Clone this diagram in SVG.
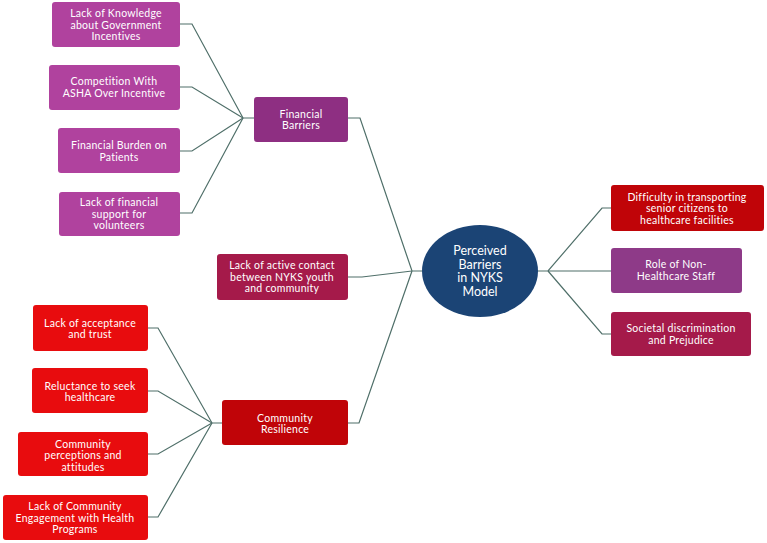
<svg xmlns="http://www.w3.org/2000/svg" width="767" height="543" viewBox="0 0 767 543">
<style>
.t{font-family:Lato,"Liberation Sans",sans-serif;font-size:10.5px;letter-spacing:0.25px;fill:#fff;text-anchor:middle}
.c{font-family:Lato,"Liberation Sans",sans-serif;font-size:12.5px;fill:#fff;text-anchor:middle}
.pl{fill:#B0429E}
.pd{fill:#8E2F82}
.cr{fill:#A51A4A}
.rd{fill:#E80C0E}
.dr{fill:#C00408}
.pr{fill:#8E3A88}
#connectors path{fill:none;stroke:#4F6F69;stroke-width:1.2}
</style>
<rect width="767" height="543" fill="#fff"/>
<g id="connectors">
<path d="M180,24 H192 L243,118 H254"/>
<path d="M180,87 H192 L243,118"/>
<path d="M180,151 H192 L243,118"/>
<path d="M180,213 H192 L243,118"/>
<path d="M348,118 H360 L412,271 H422"/>
<path d="M348,277 H362 L412,271"/>
<path d="M348,423 H359 L412,271"/>
<path d="M148,328 H158 L212,423 H222"/>
<path d="M148,391 H158 L212,423"/>
<path d="M148,454 H158 L212,423"/>
<path d="M148,517 H158 L212,423"/>
<path d="M537,271 H548 L602,208 H611"/>
<path d="M548,271 H611"/>
<path d="M548,271 L602,334 H611"/>
</g>
<g id="center"><ellipse cx="480" cy="271" rx="58" ry="46" fill="#1B4475"/>
<text class="c" x="480" y="255">Perceived</text><text class="c" x="480" y="268.5">Barriers</text><text class="c" x="480" y="282">in NYKS</text><text class="c" x="480" y="295.5">Model</text></g>
<g id="financial"><rect class="pd" x="254" y="97" width="94" height="45" rx="3"/>
<text class="t" x="301" y="117.5">Financial</text><text class="t" x="301" y="129">Barriers</text></g>
<g id="knowledge"><rect class="pl" x="52" y="2" width="128" height="45" rx="3"/>
<text class="t" x="116" y="17">Lack of Knowledge</text><text class="t" x="116" y="28.5">about Government</text><text class="t" x="116" y="40">Incentives</text></g>
<g id="asha"><rect class="pl" x="49" y="65" width="131" height="45" rx="3"/>
<text class="t" x="114" y="85">Competition With</text><text class="t" x="114" y="96.5">ASHA Over Incentive</text></g>
<g id="burden"><rect class="pl" x="58" y="128" width="122" height="45" rx="3"/>
<text class="t" x="119" y="149">Financial Burden on</text><text class="t" x="119" y="160.5">Patients</text></g>
<g id="support"><rect class="pl" x="59" y="192" width="121" height="44" rx="3"/>
<text class="t" x="119" y="206">Lack of financial</text><text class="t" x="119" y="217.5">support for</text><text class="t" x="119" y="229">volunteers</text></g>
<g id="contact"><rect class="cr" x="217" y="254" width="131" height="46" rx="3"/>
<text class="t" x="282" y="269">Lack of active contact</text><text class="t" x="282" y="280.5">between NYKS youth</text><text class="t" x="282" y="292">and community</text></g>
<g id="resilience"><rect class="dr" x="222" y="400" width="126" height="45" rx="3"/>
<text class="t" x="285" y="421.5">Community</text><text class="t" x="285" y="433">Resilience</text></g>
<g id="acceptance"><rect class="rd" x="33" y="305" width="115" height="46" rx="3"/>
<text class="t" x="90" y="326.5">Lack of acceptance</text><text class="t" x="90" y="338">and trust</text></g>
<g id="reluctance"><rect class="rd" x="32" y="368" width="116" height="45" rx="3"/>
<text class="t" x="90" y="389.5">Reluctance to seek</text><text class="t" x="90" y="401">healthcare</text></g>
<g id="perceptions"><rect class="rd" x="18" y="432" width="130" height="44" rx="3"/>
<text class="t" x="83" y="447.5">Community</text><text class="t" x="83" y="459">perceptions and</text><text class="t" x="83" y="470.5">attitudes</text></g>
<g id="engagement"><rect class="rd" x="3" y="495" width="145" height="45" rx="3"/>
<text class="t" x="75" y="510">Lack of Community</text><text class="t" x="75" y="521.5">Engagement with Health</text><text class="t" x="75" y="533">Programs</text></g>
<g id="transport"><rect class="dr" x="611" y="185" width="153" height="46" rx="3"/>
<text class="t" x="687" y="200.5">Difficulty in transporting</text><text class="t" x="687" y="212">senior citizens to</text><text class="t" x="687" y="223.5">healthcare facilities</text></g>
<g id="staff"><rect class="pr" x="611" y="248" width="131" height="45" rx="3"/>
<text class="t" x="676" y="268">Role of Non-</text><text class="t" x="676" y="280">Healthcare Staff</text></g>
<g id="discrimination"><rect class="cr" x="611" y="312" width="140" height="44" rx="3"/>
<text class="t" x="681" y="331.5">Societal discrimination</text><text class="t" x="681" y="344">and Prejudice</text></g>
</svg>
